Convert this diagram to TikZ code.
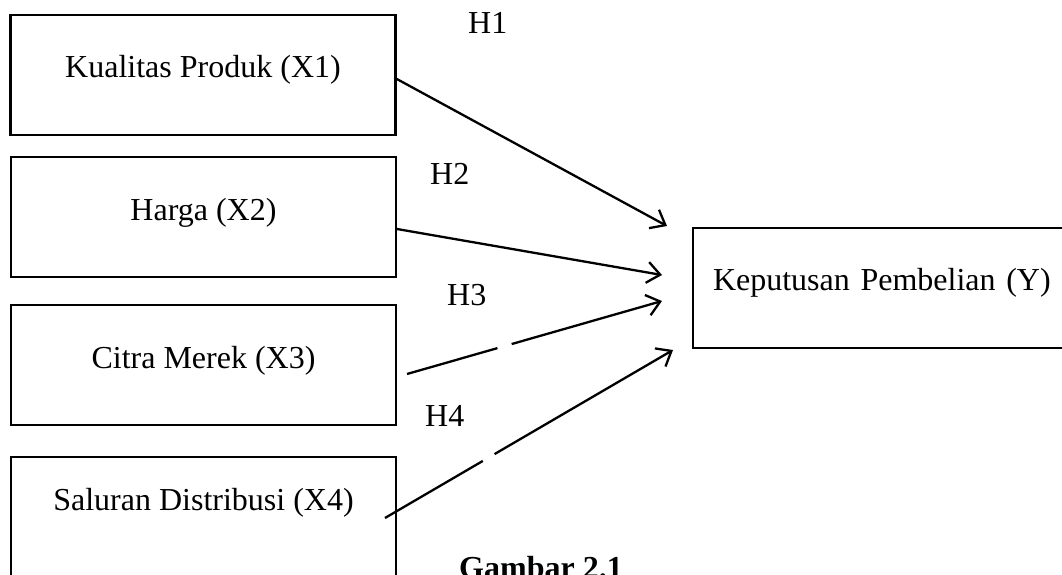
\documentclass[tikz,border=0pt]{standalone}
\usepackage{fontspec}
\setmainfont{Liberation Serif}
\usetikzlibrary{arrows.meta}
\begin{document}
\begin{tikzpicture}[x=1pt,y=-1pt,
  every node/.style={font=\fontsize{32}{38}\selectfont},
  varbox/.style={draw=black, line width=2.5pt, rectangle, inner sep=0pt, minimum width=385pt, minimum height=120pt, text height=22pt},
  conn/.style={line width=2.3pt, -{Straight Barb[length=13pt,width=21pt,line width=2.3pt]}},
  gapcut/.style={white, line width=5pt},
  hlabel/.style={anchor=base west, inner sep=0pt}]
\useasboundingbox (0,0) rectangle (1062,574);
\clip (0,0) rectangle (1062,574);
% boxes
\node[varbox, text depth=18pt] (x1) at (203,75) {Kualitas Produk (X1)};
\node[varbox, text depth=16pt] (x2) at (203.5,217) {Harga (X2)};
\node[varbox, text depth=16pt] (x3) at (203.5,365) {Citra Merek (X3)};
\node[varbox, text depth=36pt] (x4) at (203.5,517) {Saluran Distribusi (X4)};
\node[varbox, minimum width=380pt, text depth=18pt, text width=340pt, align=left] (y) at (883,288) {Keputusan Pembelian (Y)};
% hypothesis labels
\node[hlabel] (h1) at (468,33) {H1};
\node[hlabel] (h2) at (430,184) {H2};
\node[hlabel] (h3) at (447,305) {H3};
\node[hlabel] (h4) at (425,426) {H4};
% caption (cut off at the lower edge, as in the reference)
\node[anchor=base west, inner sep=0pt, font=\fontsize{32}{38}\selectfont\bfseries] (cap) at (459,578) {Gambar 2.1};
% connector end points
\coordinate (s1) at (395,78);
\coordinate (e1) at (667,226);
\coordinate (s2) at (397,229);
\coordinate (e2) at (662,275);
\coordinate (s3) at (407,374);
\coordinate (e3) at (662,301);
\coordinate (s4) at (385,518);
\coordinate (e4) at (673,350);
\draw[conn] (s1) -- (e1);
\draw[conn] (s2) -- (e2);
\draw[conn] (s3) -- (e3);
\draw[conn] (s4) -- (e4);
% small breaks in the lower connectors
\path (s3) -- (e3) coordinate[pos=0.355] (g3a) coordinate[pos=0.41] (g3b);
\path (s4) -- (e4) coordinate[pos=0.34] (g4a) coordinate[pos=0.38] (g4b);
\draw[gapcut] (g3a) -- (g3b);
\draw[gapcut] (g4a) -- (g4b);
\end{tikzpicture}
\end{document}
